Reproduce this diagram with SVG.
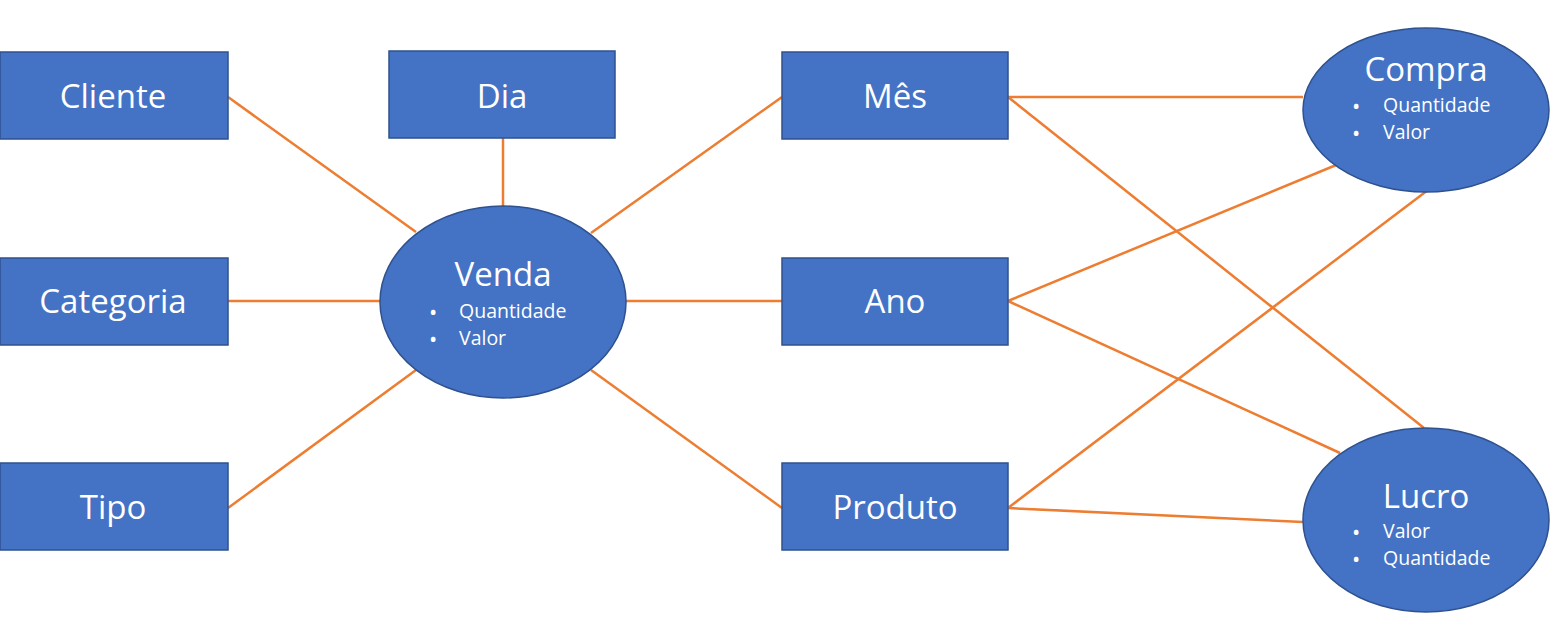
<svg xmlns="http://www.w3.org/2000/svg" width="1550" height="619" viewBox="0 0 1550 619">
<style>
.box{fill:#4472C4;stroke:#2F528F;stroke-width:1.5}
.lbl{font-family:"Open Sans","Noto Sans",sans-serif;font-size:33px;fill:#fff;text-anchor:middle}
.sm{font-family:"Open Sans","Noto Sans",sans-serif;font-size:19.5px;fill:#fff}
.bul{font-family:"Open Sans","Noto Sans",sans-serif;font-size:22px;fill:#fff}
.conn line{stroke:#ED7D31;stroke-width:2.5}
</style>
<rect width="1550" height="619" fill="#fff"/>
<g class="conn" id="connectors">
<line x1="228" y1="97" x2="416" y2="232"/>
<line x1="503" y1="138" x2="503" y2="206"/>
<line x1="782" y1="97" x2="591" y2="233"/>
<line x1="228" y1="301" x2="380" y2="301"/>
<line x1="782" y1="301" x2="626" y2="301"/>
<line x1="228" y1="508" x2="416" y2="370"/>
<line x1="782" y1="508" x2="591" y2="370"/>
<line x1="1008" y1="97" x2="1303" y2="97"/>
<line x1="1008" y1="97" x2="1424" y2="428"/>
<line x1="1008" y1="301" x2="1341" y2="163"/>
<line x1="1008" y1="301" x2="1340" y2="453"/>
<line x1="1008" y1="508" x2="1428" y2="190"/>
<line x1="1008" y1="508" x2="1303" y2="522"/>
</g>
<g id="cliente"><rect class="box" x="0" y="52" width="228" height="87"/><text class="lbl" x="113" y="108">Cliente</text></g>
<g id="categoria"><rect class="box" x="0" y="258" width="228" height="87"/><text class="lbl" x="113" y="313">Categoria</text></g>
<g id="tipo"><rect class="box" x="0" y="463" width="228" height="87"/><text class="lbl" x="113" y="519">Tipo</text></g>
<g id="dia"><rect class="box" x="389" y="51" width="226" height="87"/><text class="lbl" x="502" y="108">Dia</text></g>
<g id="mes"><rect class="box" x="782" y="52" width="226" height="87"/><text class="lbl" x="895" y="108">Mês</text></g>
<g id="ano"><rect class="box" x="782" y="258" width="226" height="87"/><text class="lbl" x="895" y="313">Ano</text></g>
<g id="produto"><rect class="box" x="782" y="463" width="226" height="87"/><text class="lbl" x="895" y="519">Produto</text></g>
<g id="venda"><ellipse class="box" cx="503" cy="302" rx="123" ry="96"/><text class="lbl" x="503" y="286">Venda</text>
<text class="bul" x="429" y="320">•</text><text class="sm" x="459" y="318">Quantidade</text>
<text class="bul" x="429" y="347">•</text><text class="sm" x="459" y="345">Valor</text></g>
<g id="compra"><ellipse class="box" cx="1426" cy="110" rx="123" ry="82"/><text class="lbl" x="1426" y="81">Compra</text>
<text class="bul" x="1352" y="114">•</text><text class="sm" x="1383" y="112">Quantidade</text>
<text class="bul" x="1352" y="141">•</text><text class="sm" x="1383" y="139">Valor</text></g>
<g id="lucro"><ellipse class="box" cx="1426" cy="520" rx="123" ry="92"/><text class="lbl" x="1426" y="508">Lucro</text>
<text class="bul" x="1352" y="540">•</text><text class="sm" x="1383" y="538">Valor</text>
<text class="bul" x="1352" y="567">•</text><text class="sm" x="1383" y="565">Quantidade</text></g>
</svg>
